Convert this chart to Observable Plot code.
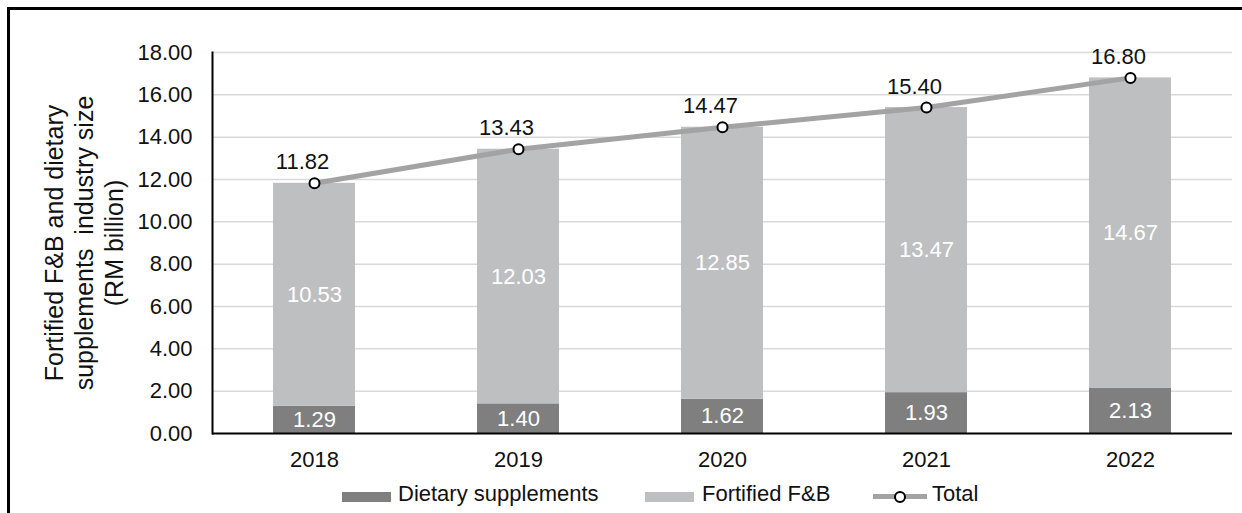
<!DOCTYPE html>
<html><head><meta charset="utf-8">
<script src="https://cdn.jsdelivr.net/npm/d3@7"></script>
<script src="https://cdn.jsdelivr.net/npm/@observablehq/plot@0.6"></script>
<style>
body{margin:0;background:#fff;font-family:"Liberation Sans",Arial,sans-serif;}
#wrap{position:relative;width:1242px;height:513px;overflow:hidden;background:#fff;}
#frame{position:absolute;left:7px;top:7px;width:1300px;height:600px;border-top:3px solid #000;border-left:3px solid #000;pointer-events:none;}
#chart{position:absolute;left:0;top:0;}
.lt{position:absolute;font-size:22px;line-height:22px;top:483px;color:#111;white-space:nowrap;}
.sw{position:absolute;top:492px;width:49px;height:10px;}
</style></head><body>
<div id="wrap">
  <div id="chart"></div>
  <div id="frame"></div>
  <div id="legend"></div>
</div>
<script>
const years = ["2018", "2019", "2020", "2021", "2022"];
const dietary = [1.29, 1.40, 1.62, 1.93, 2.13];
const fortified = [10.53, 12.03, 12.85, 13.47, 14.67];
const total = [11.82, 13.43, 14.47, 15.40, 16.80];
const yTicks = [0, 2, 4, 6, 8, 10, 12, 14, 16, 18];
const seriesNames = ["Dietary supplements", "Fortified F&B", "Total"];
const yTitle = "Fortified F&B and dietary\nsupplements\u00a0 industry size\n(RM billion)";

const colDiet = "#7f7f7f", colFort = "#bebfc1", colTotal = "#a3a3a3";

const rows = years.map((y, i) => ({year: y, dietary: dietary[i], fortified: fortified[i], total: total[i]}));

const chart = Plot.plot({
  width: 1242,
  height: 513,
  marginLeft: 212,
  marginRight: 10,
  marginTop: 52,
  marginBottom: 80,
  style: {fontFamily: '"Liberation Sans", Arial, sans-serif', fontSize: "22px", color: "#111", background: "transparent"},
  x: {domain: years, paddingInner: 0.6, paddingOuter: 0.3},
  y: {domain: [0, 18]},
  marks: [
    Plot.ruleY(yTicks.slice(1), {stroke: "#d9d9d9", strokeWidth: 1.5}),
    Plot.barY(rows, {x: "year", y1: 0, y2: "dietary", fill: colDiet}),
    Plot.barY(rows, {x: "year", y1: "dietary", y2: d => d.dietary + d.fortified, fill: colFort}),
    Plot.ruleY([0], {stroke: "#000", strokeWidth: 2}),
    Plot.frame({anchor: "left", stroke: "#000", strokeWidth: 2}),
    Plot.axisY({ticks: yTicks, tickFormat: d => d.toFixed(2), tickSize: 0, tickPadding: 20, label: null, fontSize: 22}),
    Plot.axisX({tickSize: 0, tickPadding: 18, label: null, fontSize: 22}),
    Plot.text([yTitle], {frameAnchor: "left", textAnchor: "middle", rotate: -90, dx: -129, text: d => d, lineHeight: 1.2, fontSize: 25, fill: "#111"}),
    Plot.text(rows, {x: "year", y: d => d.dietary / 2, text: d => d.dietary.toFixed(2), fill: "#fff", fontSize: 22}),
    Plot.text(rows, {x: "year", y: d => d.dietary + d.fortified / 2, text: d => d.fortified.toFixed(2), fill: "#fff", fontSize: 22}),
    Plot.line(rows, {x: "year", y: "total", stroke: colTotal, strokeWidth: 5}),
    Plot.dot(rows, {x: "year", y: "total", r: 5, fill: "#fff", stroke: "#000", strokeWidth: 2}),
    Plot.text(rows, {x: "year", y: "total", text: d => d.total.toFixed(2), dy: -21, dx: -12, fill: "#111", fontSize: 22})
  ]
});
document.getElementById("chart").appendChild(chart);

const leg = document.getElementById("legend");
leg.innerHTML =
  `<div class="sw" style="left:342px;background:${colDiet}"></div>` +
  `<div class="lt" style="left:398px">${seriesNames[0]}</div>` +
  `<div class="sw" style="left:645px;background:${colFort}"></div>` +
  `<div class="lt" style="left:702px">${seriesNames[1].replace("&", "&amp;")}</div>` +
  `<div style="position:absolute;left:873px;top:494px;width:54px;height:5px;background:${colTotal}"></div>` +
  `<div style="position:absolute;left:894px;top:491px;width:8px;height:8px;border:2px solid #000;border-radius:50%;background:#fff"></div>` +
  `<div class="lt" style="left:932px">${seriesNames[2]}</div>`;
</script>
</body></html>
